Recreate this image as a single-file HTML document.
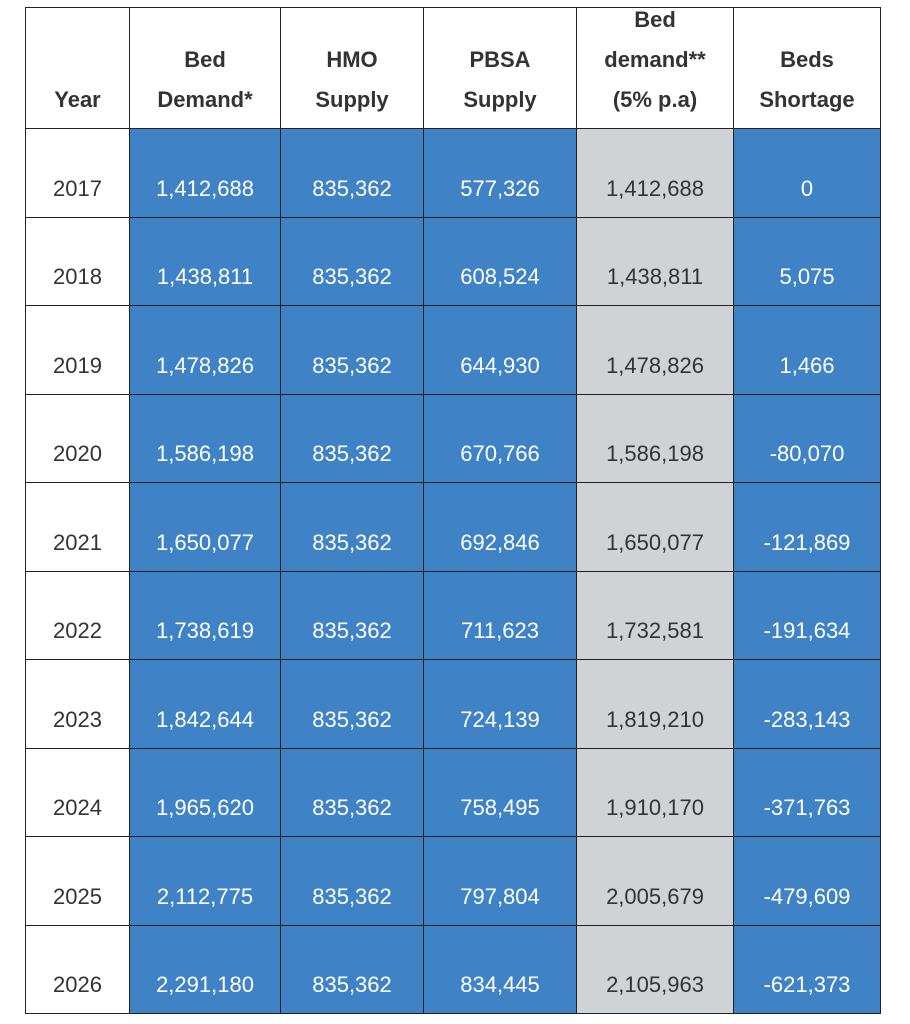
<!DOCTYPE html>
<html><head><meta charset="utf-8"><style>
body{margin:0;width:910px;height:1024px;background:#fff;overflow:hidden;font-family:"Liberation Sans",Arial,sans-serif;}
#t{position:absolute;left:0;top:0;width:910px;height:1024px;}
.c{position:absolute;box-sizing:border-box;border:1px solid #222;display:flex;align-items:flex-end;justify-content:center;text-align:center;font-size:22px;color:#333;padding-bottom:8px;line-height:40px;}
.h{font-weight:bold;color:#333;background:#fff;}
.b{background:#3f83c6;color:#fff;}
.g{background:#d0d3d6;color:#333;}
.w{background:#fff;}
</style></head><body>
<div id="t"></div>
<script>
const headers=["Year","Bed<br>Demand*","HMO<br>Supply","PBSA<br>Supply","Bed<br>demand**<br>(5% p.a)","Beds<br>Shortage"];
const years=["2017","2018","2019","2020","2021","2022","2023","2024","2025","2026"];
const bedDemand=["1,412,688","1,438,811","1,478,826","1,586,198","1,650,077","1,738,619","1,842,644","1,965,620","2,112,775","2,291,180"];
const hmoSupply=["835,362","835,362","835,362","835,362","835,362","835,362","835,362","835,362","835,362","835,362"];
const pbsaSupply=["577,326","608,524","644,930","670,766","692,846","711,623","724,139","758,495","797,804","834,445"];
const bedDemand5=["1,412,688","1,438,811","1,478,826","1,586,198","1,650,077","1,732,581","1,819,210","1,910,170","2,005,679","2,105,963"];
const shortage=["0","5,075","1,466","-80,070","-121,869","-191,634","-283,143","-371,763","-479,609","-621,373"];
const colX=[25,129,280,423,576,733,880];
const colNames=["year","bed-demand","hmo-supply","pbsa-supply","bed-demand-5pct","beds-shortage"];
const cls=["w","b","b","b","g","b"];
const top0=7,headBottom=128,rowH=88.5;
const t=document.getElementById('t');
function cell(x0,x1,y0,y1,html,c,name){
  const d=document.createElement('div');
  d.className='c '+c;
  d.style.left=x0+'px';d.style.top=y0+'px';
  d.style.width=(x1-x0+1)+'px';d.style.height=(y1-y0+1)+'px';
  d.innerHTML=html;
  
  
  t.appendChild(d);
}
headers.forEach((h,i)=>cell(colX[i],colX[i+1],top0,headBottom,h,'h','header-'+colNames[i]));
const cols=[years,bedDemand,hmoSupply,pbsaSupply,bedDemand5,shortage];
years.forEach((y,r)=>{
  const y0=Math.round(headBottom+r*rowH),y1=Math.round(headBottom+(r+1)*rowH);
  cols.forEach((col,i)=>cell(colX[i],colX[i+1],y0,y1,col[r],cls[i],colNames[i]+'-'+y));
});
</script>
</body></html>
